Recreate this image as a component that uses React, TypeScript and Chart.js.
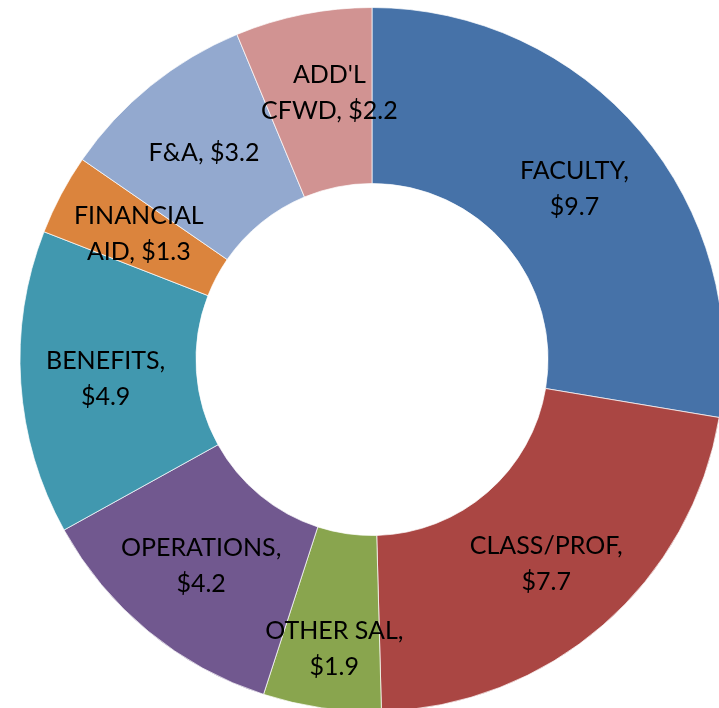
import React, { useEffect, useRef } from "react";
import { Chart, registerables } from "chart.js";

Chart.register(...registerables);

const categories = ["FACULTY", "CLASS/PROF", "OTHER SAL", "OPERATIONS", "BENEFITS", "FINANCIAL AID", "F&A", "ADD'L CFWD"];
const values = [9.7, 7.7, 1.9, 4.2, 4.9, 1.3, 3.2, 2.2];
const labelLines = [
  ["FACULTY,", "$9.7"],
  ["CLASS/PROF,", "$7.7"],
  ["OTHER SAL,", "$1.9"],
  ["OPERATIONS,", "$4.2"],
  ["BENEFITS,", "$4.9"],
  ["FINANCIAL", "AID, $1.3"],
  ["F&A, $3.2"],
  ["ADD'L", "CFWD, $2.2"],
];
const colors = ["#4672A8", "#AA4643", "#89A54E", "#71588F", "#4198AF", "#DB843D", "#93A9CF", "#D19392"];
// label nudges (px) to mimic the original placement
const labelNudge = [
  [1, 0],
  [1, 5],
  [0, 28],
  [-3, 3],
  [-3, 2],
  [0, -2],
  [-2, -1],
  [9, -8],
];

const labelPlugin = {
  id: "sliceLabels",
  afterDatasetsDraw(chart: any) {
    const ctx = chart.ctx;
    const meta = chart.getDatasetMeta(0);
    ctx.save();
    ctx.font = "25px Lato";
    ctx.fillStyle = "#000";
    ctx.textAlign = "center";
    ctx.textBaseline = "middle";
    const lh = 36;
    meta.data.forEach((arc: any, i: number) => {
      const p = arc.getProps(["x", "y", "startAngle", "endAngle", "innerRadius", "outerRadius"], true);
      const a = (p.startAngle + p.endAngle) / 2;
      const r = (p.innerRadius + p.outerRadius) / 2;
      const cx = p.x + Math.cos(a) * r + labelNudge[i][0];
      const cy = p.y + Math.sin(a) * r + labelNudge[i][1];
      const lines = labelLines[i];
      const y0 = cy - ((lines.length - 1) * lh) / 2;
      lines.forEach((t, j) => ctx.fillText(t, cx, y0 + j * lh));
    });
    ctx.restore();
  },
};

export default function App() {
  const ref = useRef<HTMLCanvasElement>(null);
  useEffect(() => {
    const chart = new Chart(ref.current!, {
      type: "doughnut",
      data: {
        labels: categories,
        datasets: [
          {
            data: values,
            backgroundColor: colors,
            borderColor: "rgba(255,255,255,0.7)",
            borderWidth: 1,
          },
        ],
      },
      options: {
        responsive: false,
        animation: false,
        cutout: "50%",
        layout: { padding: { top: 7, bottom: 8, left: 0, right: 0 } },
        plugins: { legend: { display: false }, tooltip: { enabled: false } },
      },
      plugins: [labelPlugin],
    });
    return () => chart.destroy();
  }, []);
  return (
    <div style={{ position: "fixed", left: 0, top: 0, width: 719, height: 708, overflow: "hidden", background: "#fff" }}>
      <canvas ref={ref} width={744} height={720} style={{ display: "block" }} />
    </div>
  );
}
